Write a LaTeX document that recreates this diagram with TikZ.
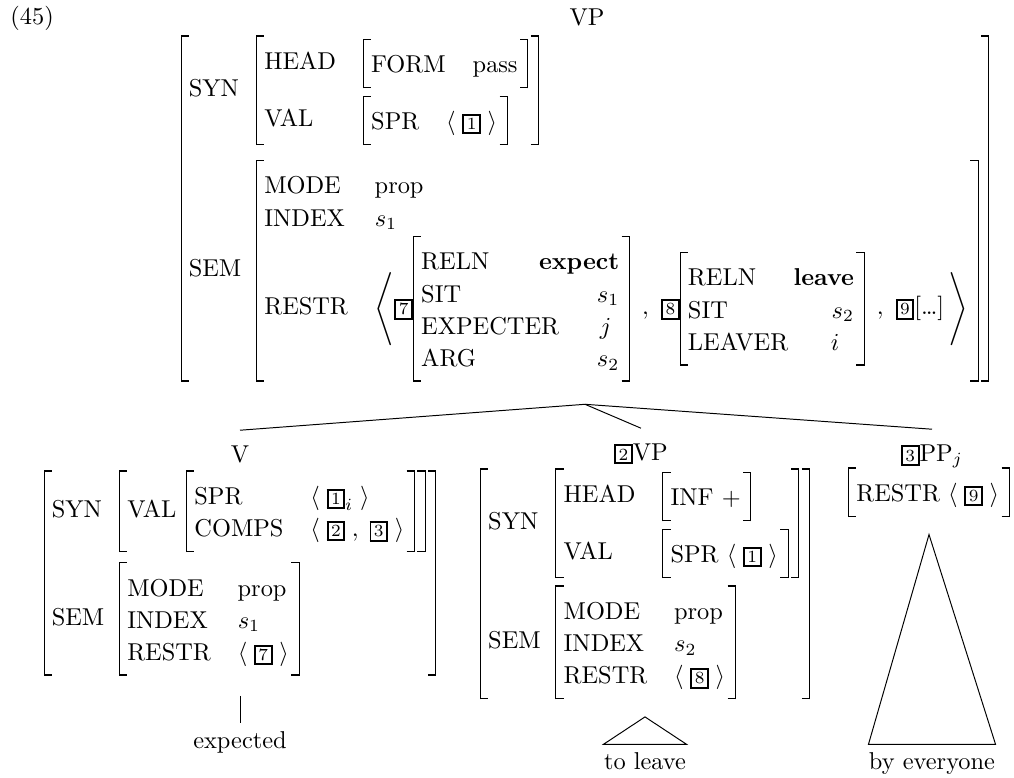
\documentclass[tikz,border=0pt]{standalone}
\usepackage{amsmath,amssymb}
\usepackage{tikz}
\usetikzlibrary{positioning}

% feature structures: brackets drawn with rules, as tall as their contents
\newsavebox{\avmbox}
\newlength{\avmht}
\newlength{\avmdp}
\renewcommand{\arraystretch}{1.1}
\newcommand{\tg}[1]{\text{\setlength{\fboxsep}{1pt}\setlength{\fboxrule}{0.8pt}\fbox{\scriptsize #1}}}
\newcommand{\avmskip}[1]{\\\noalign{\vskip #1}}
\newcommand{\lbrk}{\vrule width 0.4pt height \avmht depth \avmdp
  \rlap{\vrule width 3pt height \avmht depth -\dimexpr\avmht-0.6pt\relax}%
  \rlap{\vrule width 3pt height -\dimexpr\avmdp-0.6pt\relax depth \avmdp}}
\newcommand{\rbrk}{\llap{\vrule width 3pt height \avmht depth -\dimexpr\avmht-0.6pt\relax}%
  \llap{\vrule width 3pt height -\dimexpr\avmdp-0.6pt\relax depth \avmdp}%
  \vrule width 0.4pt height \avmht depth \avmdp}
\newcommand{\avm}[2][l@{\hspace{11pt}}l]{%
  \sbox{\avmbox}{$\begin{array}{@{}#1@{}}\rule{0pt}{14pt}#2\rule[-6.3pt]{0pt}{6.3pt}\end{array}$}%
  \setlength{\avmht}{\ht\avmbox}\setlength{\avmdp}{\dp\avmbox}%
  \mathord{\lbrk\hspace{3pt}\usebox{\avmbox}\hspace{4pt}\rbrk}}

\begin{document}
\begin{tikzpicture}[x=0.41pt, y=-0.41pt,
  every node/.style={inner sep=0pt},
  cat/.style={inner xsep=0pt, inner ysep=6pt, anchor=base},
  leaf/.style={inner xsep=0pt, inner ysep=3pt, anchor=base},
  fs/.style={anchor=north},
  branch/.style={line width=0.4pt},
]
\useasboundingbox (0,0) rectangle (1014,778);

% example number and mother
\node[anchor=base west] (exnum) at (10,25) {(45)};
\node[cat] (vp) at (587,26) {VP};
\node[fs] (vpavm) at (585,35) {$\avm[l@{\hspace{6pt}}l]{
  \mathrm{SYN} & \avm{\mathrm{HEAD} & \avm{\mathrm{FORM} & \mathrm{pass}} \avmskip{3pt}
                      \mathrm{VAL} & \avm{\mathrm{SPR} & \langle\;\tg{1}\;\rangle}} \avmskip{6pt}
  \mathrm{SEM} & \avm{\mathrm{MODE} & \mathrm{prop} \\
                      \mathrm{INDEX} & s_1 \\
                      \mathrm{RESTR} & \Biggl\langle\tg{7}\avm[l@{\hspace{15.5pt}}r]{\mathrm{RELN} & \llap{\textbf{expect}} \\
                          \mathrm{SIT} & s_1 \\ \mathrm{EXPECTER} & j\hspace{3.3pt} \\ \mathrm{ARG} & s_2}
                        \enspace,\ \tg{8}\avm[l@{\hspace{17.5pt}}r]{\mathrm{RELN} & \llap{\textbf{leave}} \\
                          \mathrm{SIT} & s_2 \\ \mathrm{LEAVER} & i\hspace{6pt}}
                        \enspace,\ \tg{9}\text{[\ldots]}\,\Biggr\rangle}}$};

% daughters
\node[cat] (v) at (240,462) {V};
\node[fs] (vavm) at (240,470) {$\avm[l@{\hspace{6pt}}l]{
  \mathrm{SYN} & \avm[l@{\hspace{4pt}}l]{\mathrm{VAL} & \avm{\mathrm{SPR} & \langle\;\tg{1}_i\;\rangle \\
                      \mathrm{COMPS} & \langle\;\tg{2}\;,\;\tg{3}\;\rangle}} \avmskip{4pt}
  \mathrm{SEM} & \avm{\mathrm{MODE} & \mathrm{prop} \\ \mathrm{INDEX} & s_1 \\
                      \mathrm{RESTR} & \langle\;\tg{7}\;\rangle}}$};

\node[cat] (vpinf) at (641,460) {$\tg{2}\mathrm{VP}$};
\node[fs] (vpinfavm) at (645,468) {$\avm[l@{\hspace{6pt}}l]{
  \mathrm{SYN} & \avm{\mathrm{HEAD} & \avm[l]{\text{INF +}} \avmskip{3pt}
                      \mathrm{VAL} & \avm[l]{\mathrm{SPR}\ \langle\;\tg{1}\;\rangle}} \avmskip{3pt}
  \mathrm{SEM} & \avm{\mathrm{MODE} & \mathrm{prop} \\ \mathrm{INDEX} & s_2 \\
                      \mathrm{RESTR} & \langle\;\tg{8}\;\rangle}}$};

\node[cat] (pp) at (932,461) {$\tg{3}\mathrm{PP}_j$};
\node[fs] (ppavm) at (929,467) {$\avm[l]{\mathrm{RESTR}\ \langle\;\tg{9}\;\rangle}$};

% leaves
\node[leaf] (expd) at (240,748) {expected};
\node[leaf] (toleave) at (645,769) {to leave};
\node[leaf] (byev) at (932,769) {by everyone};

% branches
\draw[branch] ([yshift=-9pt]vpavm.south) -- (v.north);
\draw[branch] ([yshift=-9pt]vpavm.south) -- (vpinf.north);
\draw[branch] ([yshift=-9pt]vpavm.south) -- (pp.north);
\draw[branch] ([yshift=-8pt]vavm.south) -- (expd.north);
\draw[branch] ([yshift=-7pt]vpinfavm.south) -- (toleave.north west) -- (toleave.north east) -- cycle;
\draw[branch] ([yshift=-7pt]ppavm.south) -- (byev.north west) -- (byev.north east) -- cycle;
\end{tikzpicture}
\end{document}
